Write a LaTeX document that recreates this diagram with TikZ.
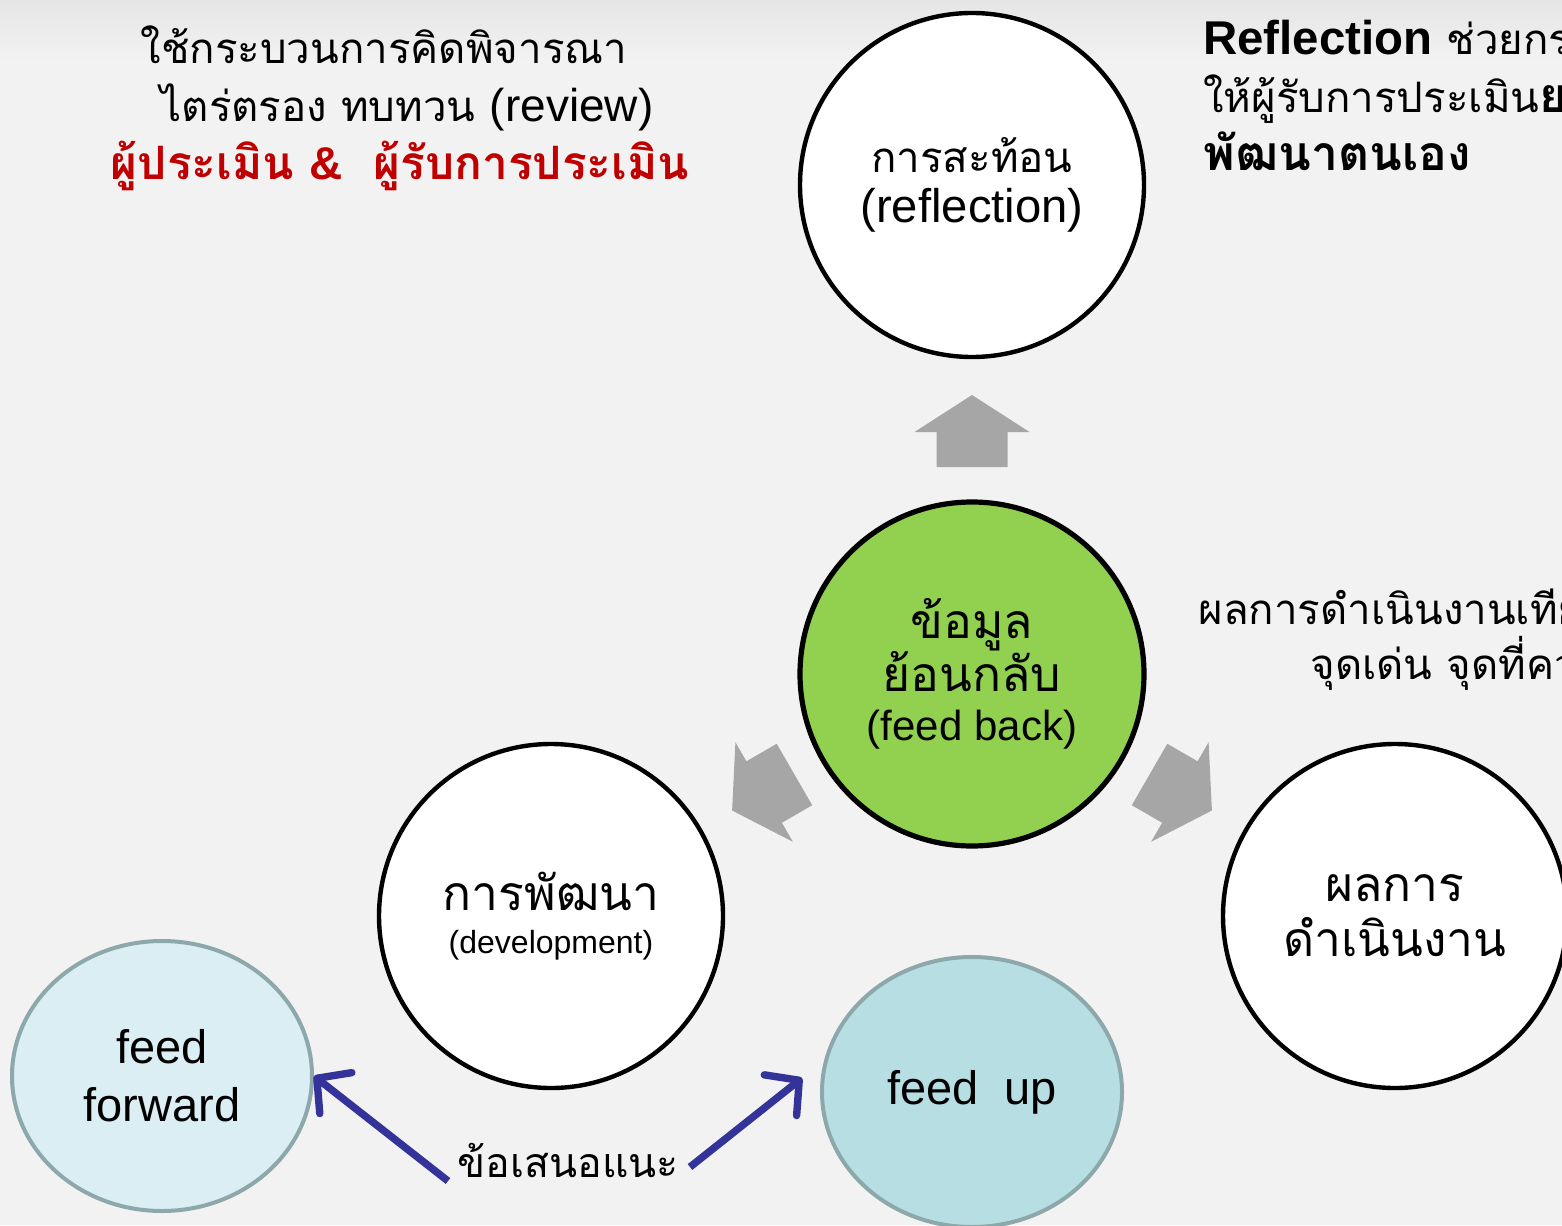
\documentclass[tikz,border=0pt]{standalone}
\usepackage{fontspec}
\setmainfont{Liberation Sans}
\newfontfamily\thai[Script=Thai]{Loma}
\usetikzlibrary{arrows.meta,shapes.geometric}

\definecolor{slide}{HTML}{F2F2F2}
\definecolor{leaf}{HTML}{92D050}
\definecolor{ice}{HTML}{DAEEF3}
\definecolor{aqua}{HTML}{B7DFE3}
\definecolor{rim}{HTML}{8DA8AB}
\definecolor{ink}{HTML}{333399}
\definecolor{block}{HTML}{A6A6A6}
\definecolor{redtext}{HTML}{C00000}

\tikzset{
	bubble/.style={circle,draw=black,line width=2.2pt,fill=white,minimum size=172pt,inner sep=0pt,align=center},
	egg/.style={ellipse,draw=rim,line width=2pt,minimum width=150pt,minimum height=135pt,inner sep=0pt,align=center,
		font=\fontsize{23.5}{29}\selectfont},
	hint/.style={ink,line width=3.7pt,->,>={Straight Barb[length=12pt,width=26pt,round]}},
	plain/.style={inner sep=0pt,font=\thai\fontsize{21}{29}\selectfont},
}

\begin{document}
\begin{tikzpicture}[x=0.5pt,y=-0.5pt]
	\useasboundingbox (0,0) rectangle (1562,1225);
	\fill[slide] (0,0) rectangle (1562,1225);
	\shade[top color=black!10,bottom color=slide] (0,0) rectangle (1562,60);

	\node[bubble,font=\thai\fontsize{21}{25}\selectfont] (refl) at (972,185) {การสะท้อน\\{\rmfamily\fontsize{23.6}{25}\selectfont (reflection)}};
	\node[bubble,fill=leaf,line width=2.6pt,font=\thai\fontsize{24}{26.5}\selectfont] (fb) at (972,674) {ข้อมูล\\ย้อนกลับ\\[-2pt]{\rmfamily\fontsize{21}{25}\selectfont (feed back)}};
	\node[bubble,font=\thai\fontsize{24}{21.5}\selectfont] (dev) at (551,916) {การพัฒนา\\{\rmfamily\fontsize{16}{20}\selectfont (development)}};
	\node[bubble,font=\thai\fontsize{24}{27.5}\selectfont] (res) at (1395,916) {ผลการ\\ดำเนินงาน};
	\node[egg,fill=ice] (ff) at (162,1076) {feed\\forward};
	\node[egg,fill=aqua] (fu) at (972,1092) {feed\ \ up};

	\foreach \turn in {0,120,-120}
		\fill[block,shift={(972,672)},rotate=\turn] (-35.5,-205) -- (-35.5,-240) -- (-57.5,-240) -- (0,-277)
			-- (57.5,-240) -- (35.5,-240) -- (35.5,-205) -- cycle;

	\node[plain,align=center] (review) at (400,108) {ใช้กระบวนการคิดพิจารณา\hspace*{16pt}\\
		\ ไตร่ตรอง ทบทวน {\rmfamily\fontsize{23}{29}\selectfont(review)}\\
		{\color{redtext}\bfseries\fontsize{23}{29}\selectfont ผู้ประเมิน {\rmfamily\&}\ \ ผู้รับการประเมิน}};
	\node[plain,align=left,anchor=west] (note) at (1203,95) {{\rmfamily\bfseries\fontsize{23.7}{29}\selectfont Reflection} ช่วยกร\\
		ให้ผู้รับการประเมิน{\bfseries\fontsize{24}{29}\selectfont ยอ}\\{\bfseries\fontsize{24}{29}\selectfont พัฒนาตนเอง}};
	\node[plain,anchor=west] (res1) at (1198,607) {ผลการดำเนินงานเทีย};
	\node[plain,anchor=west] (res2) at (1310,663) {จุดเด่น จุดที่คว};

	\node[plain,font=\thai\fontsize{20.5}{28}\selectfont] (tip) at (568,1160) {ข้อเสนอแนะ};
	\coordinate (s1) at (448,1181);
	\coordinate (s2) at (690,1167);
	\draw[hint] (s1) -- (ff.east);
	\draw[hint,shorten >=14pt] (s2) -- (fu.168);
\end{tikzpicture}
\end{document}
